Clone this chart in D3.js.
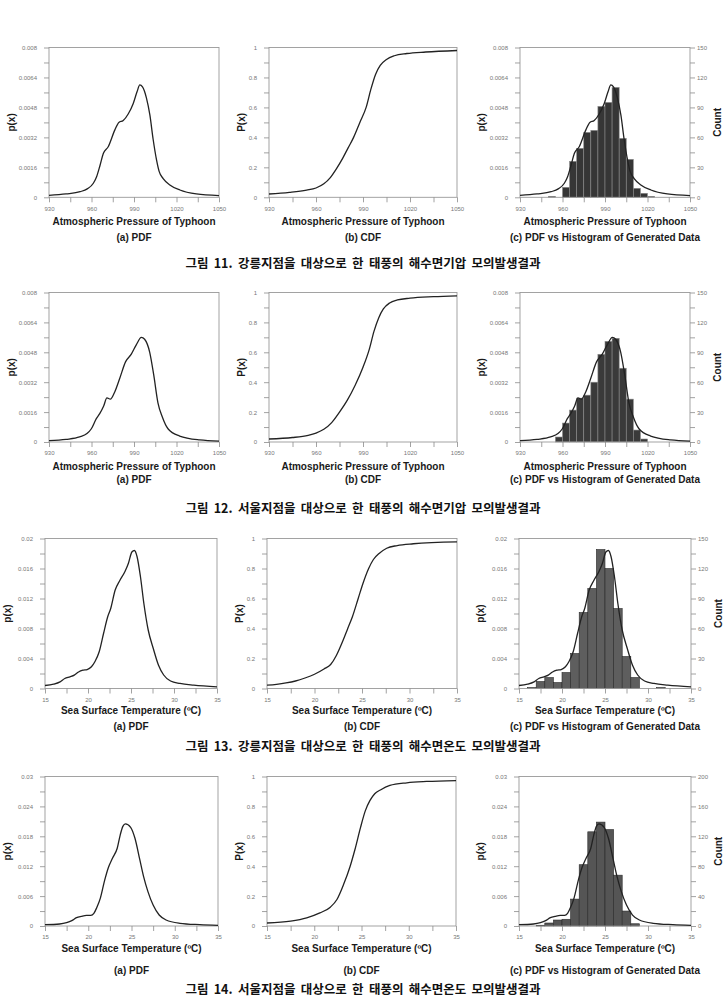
<!DOCTYPE html>
<html>
<head>
<meta charset="utf-8">
<script src="https://cdn.jsdelivr.net/npm/d3@7"></script>
<style>
  body { margin: 0; background: #fff; }
  svg text { font-family: "Liberation Sans", Arial, sans-serif; }
  .tick text { fill: #777; font-size: 6px; }
  .tick line { stroke: #8a8a8a; stroke-width: 0.8; }
  .titulo { font-weight: bold; font-size: 10px; fill: #1a1a1a; }
  .legenda { font-family: "Noto Sans CJK KR", sans-serif !important; font-weight: bold; font-size: 12.5px; word-spacing: 2.5px; fill: #111; }
</style>
</head>
<body>
<svg id="figura" width="727" height="998"></svg>
<script>
// ---- ticks ----
const pressaoTicks = [930, 960, 990, 1020, 1050];
const temperaturaTicks = [15, 20, 25, 30, 35];
const pdfPressaoTicks = [0, 0.0016, 0.0032, 0.0048, 0.0064, 0.008];
const pdfTemp13Ticks = [0, 0.004, 0.008, 0.012, 0.016, 0.02];
const pdfTemp14Ticks = [0, 0.006, 0.012, 0.018, 0.024, 0.03];
const cdfTicks = [0, 0.2, 0.4, 0.6, 0.8, 1];
const contagem150Ticks = [0, 30, 60, 90, 120, 150];
const contagem200Ticks = [0, 40, 80, 120, 160, 200];

// ---- figura 11: Gangneung, pressao ----
const pdf11 = [[930,0.0001],[942,0.00018],[952,0.0003],[957,0.00045],[961.3,0.00075],[963.6,0.0011],[966,0.0017],[968.4,0.00235],[971.8,0.0027],[976.5,0.0036],[979.3,0.004],[982.4,0.0041],[985.9,0.00445],[989.4,0.005],[992.2,0.00565],[994.1,0.006],[996,0.0059],[998.8,0.0053],[1001.2,0.0044],[1003.5,0.0031],[1005.9,0.002],[1007.8,0.00137],[1010.6,0.001],[1015.3,0.00066],[1022.4,0.00039],[1034,0.00018],[1050,0.00009]];
const cdf11 = [[930,0.022],[943,0.033],[954,0.048],[960,0.062],[965,0.09],[969,0.13],[973,0.19],[977,0.26],[980.5,0.33],[984,0.4],[988,0.5],[992,0.6],[995,0.72],[998,0.82],[1001,0.88],[1005,0.92],[1010,0.945],[1018,0.96],[1030,0.97],[1050,0.98]];
const hist11Inicio = [950, 960, 965, 970, 975, 980, 985, 990, 995, 1000, 1005, 1010, 1015, 1020];
const hist11Contagem = [1, 10, 36, 49, 65, 67, 91, 95, 110, 59, 38, 9, 4, 1];

// ---- figura 12: Seoul, pressao ----
const pdf12 = [[930,0.00007],[942,0.00014],[951.6,0.00027],[956.8,0.00045],[959.9,0.00071],[963.4,0.00125],[965.8,0.00152],[968.6,0.00193],[970.9,0.00236],[973.3,0.00229],[976.4,0.00268],[979.9,0.0034],[984.1,0.0043],[988.1,0.0047],[991.6,0.0052],[995.2,0.0056],[997.5,0.0055],[1001.1,0.0048],[1003.9,0.0036],[1006.9,0.0021],[1010,0.00134],[1014,0.00071],[1022.2,0.00032],[1036.4,0.00011],[1050,0.00005]];
const cdf12 = [[930,0.02],[945,0.03],[955,0.045],[960,0.06],[965,0.085],[970,0.13],[975,0.2],[980,0.28],[985,0.38],[990,0.5],[994,0.62],[997,0.74],[1000,0.83],[1003,0.89],[1007,0.93],[1012,0.95],[1020,0.962],[1035,0.972],[1050,0.978]];
const hist12Inicio = [955, 960, 965, 970, 975, 980, 985, 990, 995, 1000, 1005, 1010, 1015];
const hist12Contagem = [5, 19, 32, 44, 47, 60, 88, 101, 104, 74, 43, 12, 3];

// ---- figura 13: Gangneung, temperatura ----
const pdf13 = [[15,0.0004],[16,0.00058],[16.75,0.00089],[17.3,0.00133],[17.9,0.00156],[18.4,0.00178],[18.9,0.0022],[19.4,0.00244],[19.9,0.00253],[20.4,0.0029],[20.8,0.00356],[21.3,0.0049],[21.8,0.0073],[22.3,0.0096],[22.65,0.0107],[23.15,0.0131],[23.7,0.0144],[24.3,0.0156],[24.7,0.0167],[25.1,0.0182],[25.4,0.0184],[25.7,0.0176],[26.1,0.0149],[26.5,0.0113],[27,0.0078],[27.6,0.0053],[28.2,0.0031],[28.8,0.0018],[29.6,0.001],[30.7,0.00067],[32.3,0.00044],[35,0.00022]];
const cdf13 = [[15,0.022],[16,0.028],[17,0.037],[18,0.05],[19,0.07],[20,0.095],[21,0.13],[21.7,0.16],[22.3,0.22],[23,0.32],[23.5,0.4],[24,0.48],[24.6,0.6],[25.1,0.7],[25.7,0.8],[26.2,0.86],[26.8,0.9],[27.6,0.935],[28.7,0.953],[30.4,0.965],[35,0.978]];
const hist13Inicio = [16, 17, 18, 19, 20, 21, 22, 23, 24, 25, 26, 27, 28, 31];
const hist13Contagem = [1, 7, 11, 6, 16, 35, 76, 100, 139, 120, 80, 32, 11, 1];

// ---- figura 14: Seoul, temperatura ----
const pdf14 = [[15,0.00027],[16.7,0.0004],[17.5,0.00067],[18.1,0.00107],[18.65,0.00167],[19.2,0.00194],[19.8,0.00214],[20.3,0.00214],[20.65,0.00254],[21,0.00375],[21.4,0.0056],[21.9,0.0092],[22.3,0.0116],[22.8,0.0136],[23.35,0.0156],[23.7,0.0183],[24,0.02],[24.3,0.0205],[24.9,0.0198],[25.4,0.0176],[25.96,0.0133],[26.4,0.0099],[26.9,0.0069],[27.5,0.0042],[28.2,0.0022],[29,0.0012],[30.6,0.00054],[32.9,0.00027],[35,0.00013]];
const cdf14 = [[15,0.02],[17.5,0.033],[19.2,0.055],[20.6,0.088],[21.7,0.126],[22.4,0.177],[23.1,0.277],[23.8,0.4],[24.3,0.51],[24.9,0.66],[25.4,0.77],[25.9,0.84],[26.4,0.885],[27,0.91],[28,0.94],[29.8,0.958],[31.9,0.967],[35,0.973]];
const hist14Inicio = [17, 18, 19, 20, 21, 22, 23, 24, 25, 26, 27, 28];
const hist14Contagem = [1, 4, 8, 9, 36, 82, 126, 139, 129, 68, 20, 3];

const legendas = [
  '그림  11. 강릉지점을 대상으로 한 태풍의 해수면기압 모의발생결과',
  '그림  12. 서울지점을 대상으로 한 태풍의 해수면기압 모의발생결과',
  '그림  13. 강릉지점을 대상으로 한 태풍의 해수면온도 모의발생결과',
  '그림  14. 서울지점을 대상으로 한 태풍의 해수면온도 모의발생결과'
];

const svg = d3.select('#figura');
const meios = t => d3.pairs(t).map(([a, b]) => (a + b) / 2);

function Painel(p) {
  const g = svg.append('g');
  const x = d3.scaleLinear().domain([p.ticksX[0], p.ticksX[p.ticksX.length - 1]]).range([p.esq, p.dir]);
  const y = d3.scaleLinear().domain([0, p.ticksY[p.ticksY.length - 1]]).range([p.base, p.topo]);

  // histograma (eixo da direita)
  if (p.hist) {
    const yc = d3.scaleLinear().domain([0, p.hist.ticks[p.hist.ticks.length - 1]]).range([p.base, p.topo]);
    const dados = p.hist.inicio.map((b, i) => ({ b: b, c: p.hist.contagem[i] }));
    g.selectAll('.barra').data(dados).enter().append('rect')
      .attr('x', d => x(d.b))
      .attr('width', d => x(d.b + p.hist.largura) - x(d.b))
      .attr('y', d => yc(d.c))
      .attr('height', d => p.base - yc(d.c))
      .attr('fill', p.hist.cor)
      .attr('stroke', p.hist.borda)
      .attr('stroke-width', 0.6);

    const eixoD = g.append('g').attr('transform', `translate(${p.dir},0)`)
      .call(d3.axisRight(yc).tickValues(p.hist.ticks).tickSize(5).tickSizeOuter(0).tickPadding(2).tickFormat(d => d));
    eixoD.select('.domain').remove();
    const menorD = g.append('g').attr('transform', `translate(${p.dir},0)`)
      .call(d3.axisRight(yc).tickValues(meios(p.hist.ticks)).tickSize(5).tickFormat(''));
    menorD.select('.domain').remove();

    g.append('text').attr('class', 'titulo')
      .attr('transform', `translate(${p.dir + 27},${(p.topo + p.base) / 2}) rotate(-90)`)
      .attr('text-anchor', 'middle').attr('dominant-baseline', 'central')
      .text('Count');
  }

  // moldura
  g.append('rect')
    .attr('x', p.esq).attr('y', p.topo)
    .attr('width', p.dir - p.esq).attr('height', p.base - p.topo)
    .attr('fill', 'none').attr('stroke', '#999').attr('stroke-width', 0.9);

  // eixos X e Y (principais e secundarios)
  const eixoX = g.append('g').attr('transform', `translate(0,${p.base})`)
    .call(d3.axisBottom(x).tickValues(p.ticksX).tickSize(5).tickSizeOuter(0).tickPadding(4).tickFormat(d => d));
  eixoX.select('.domain').remove();
  const menorX = g.append('g').attr('transform', `translate(0,${p.base})`)
    .call(d3.axisBottom(x).tickValues(meios(p.ticksX)).tickSize(5).tickFormat(''));
  menorX.select('.domain').remove();

  const eixoY = g.append('g').attr('transform', `translate(${p.esq},0)`)
    .call(d3.axisLeft(y).tickValues(p.ticksY).tickSize(5).tickSizeOuter(0).tickPadding(7).tickFormat(d => d));
  eixoY.select('.domain').remove();
  const menorY = g.append('g').attr('transform', `translate(${p.esq},0)`)
    .call(d3.axisLeft(y).tickValues(meios(p.ticksY)).tickSize(5).tickFormat(''));
  menorY.select('.domain').remove();

  // curva
  g.append('path').datum(p.curva)
    .attr('d', d3.line().x(d => x(d[0])).y(d => y(d[1])).curve(d3.curveMonotoneX))
    .attr('fill', 'none').attr('stroke', '#222').attr('stroke-width', 1.3);

  // titulos
  g.append('text').attr('class', 'titulo')
    .attr('transform', `translate(${p.esq - p.dy},${(p.topo + p.base) / 2}) rotate(-90)`)
    .attr('text-anchor', 'middle').attr('dominant-baseline', 'central')
    .text(p.tituloY);
  g.append('text').attr('class', 'titulo')
    .attr('x', (p.esq + p.dir) / 2).attr('y', p.tituloXY)
    .attr('text-anchor', 'middle').attr('dominant-baseline', 'central')
    .text(p.tituloX);
  g.append('text').attr('class', 'titulo')
    .attr('x', (p.esq + p.dir) / 2).attr('y', p.subY)
    .attr('text-anchor', 'middle').attr('dominant-baseline', 'central')
    .text(p.sub);
}

const linhas = [
  { topo: 47.5, base: 197.3, tituloXY: 221.7, subY: 237, legY: 262, cols: [[49, 219], [269, 457], [520, 690]],
    tX: pressaoTicks, tY: pdfPressaoTicks, pdf: pdf11, cdf: cdf11, hi: hist11Inicio, hc: hist11Contagem, ht: contagem150Ticks,
    larg: 5, cor: '#363636', borda: '#8a8a8a', nome: 'Atmospheric Pressure of Typhoon' },
  { topo: 292.5, base: 442, tituloXY: 466.7, subY: 479, legY: 507, cols: [[49, 219], [269, 457], [520, 690]],
    tX: pressaoTicks, tY: pdfPressaoTicks, pdf: pdf12, cdf: cdf12, hi: hist12Inicio, hc: hist12Contagem, ht: contagem150Ticks,
    larg: 5, cor: '#3a3a3a', borda: '#8a8a8a', nome: 'Atmospheric Pressure of Typhoon' },
  { topo: 538.5, base: 688.5, tituloXY: 710, subY: 726, legY: 745, cols: [[45, 217], [267, 457], [519, 691]],
    tX: temperaturaTicks, tY: pdfTemp13Ticks, pdf: pdf13, cdf: cdf13, hi: hist13Inicio, hc: hist13Contagem, ht: contagem150Ticks,
    larg: 1, cor: '#5e5e5e', borda: '#2a2a2a', nome: 'Sea Surface Temperature (ºC)' },
  { topo: 776.5, base: 926, tituloXY: 948, subY: 970, legY: 988, cols: [[45, 218], [267, 456], [519, 691]],
    tX: temperaturaTicks, tY: pdfTemp14Ticks, pdf: pdf14, cdf: cdf14, hi: hist14Inicio, hc: hist14Contagem, ht: contagem200Ticks,
    larg: 1, cor: '#555', borda: '#2a2a2a', nome: 'Sea Surface Temperature (ºC)' }
];

linhas.forEach((l, i) => {
  const base = { topo: l.topo, base: l.base, tituloXY: l.tituloXY, subY: l.subY, ticksX: l.tX, tituloX: l.nome };
  new Painel(Object.assign({}, base, { esq: l.cols[0][0], dir: l.cols[0][1], ticksY: l.tY, curva: l.pdf,
    tituloY: 'p(x)', dy: 38, sub: '(a) PDF' }));
  new Painel(Object.assign({}, base, { esq: l.cols[1][0], dir: l.cols[1][1], ticksY: cdfTicks, curva: l.cdf,
    tituloY: 'P(x)', dy: 28, sub: '(b) CDF' }));
  new Painel(Object.assign({}, base, { esq: l.cols[2][0], dir: l.cols[2][1], ticksY: l.tY, curva: l.pdf,
    tituloY: 'p(x)', dy: 39, sub: '(c) PDF vs Histogram of Generated Data',
    hist: { inicio: l.hi, contagem: l.hc, ticks: l.ht, largura: l.larg, cor: l.cor, borda: l.borda } }));

  svg.append('text').attr('class', 'legenda')
    .attr('x', 363).attr('y', l.legY)
    .attr('text-anchor', 'middle').attr('dominant-baseline', 'central')
    .text(legendas[i]);
});
</script>
</body>
</html>
